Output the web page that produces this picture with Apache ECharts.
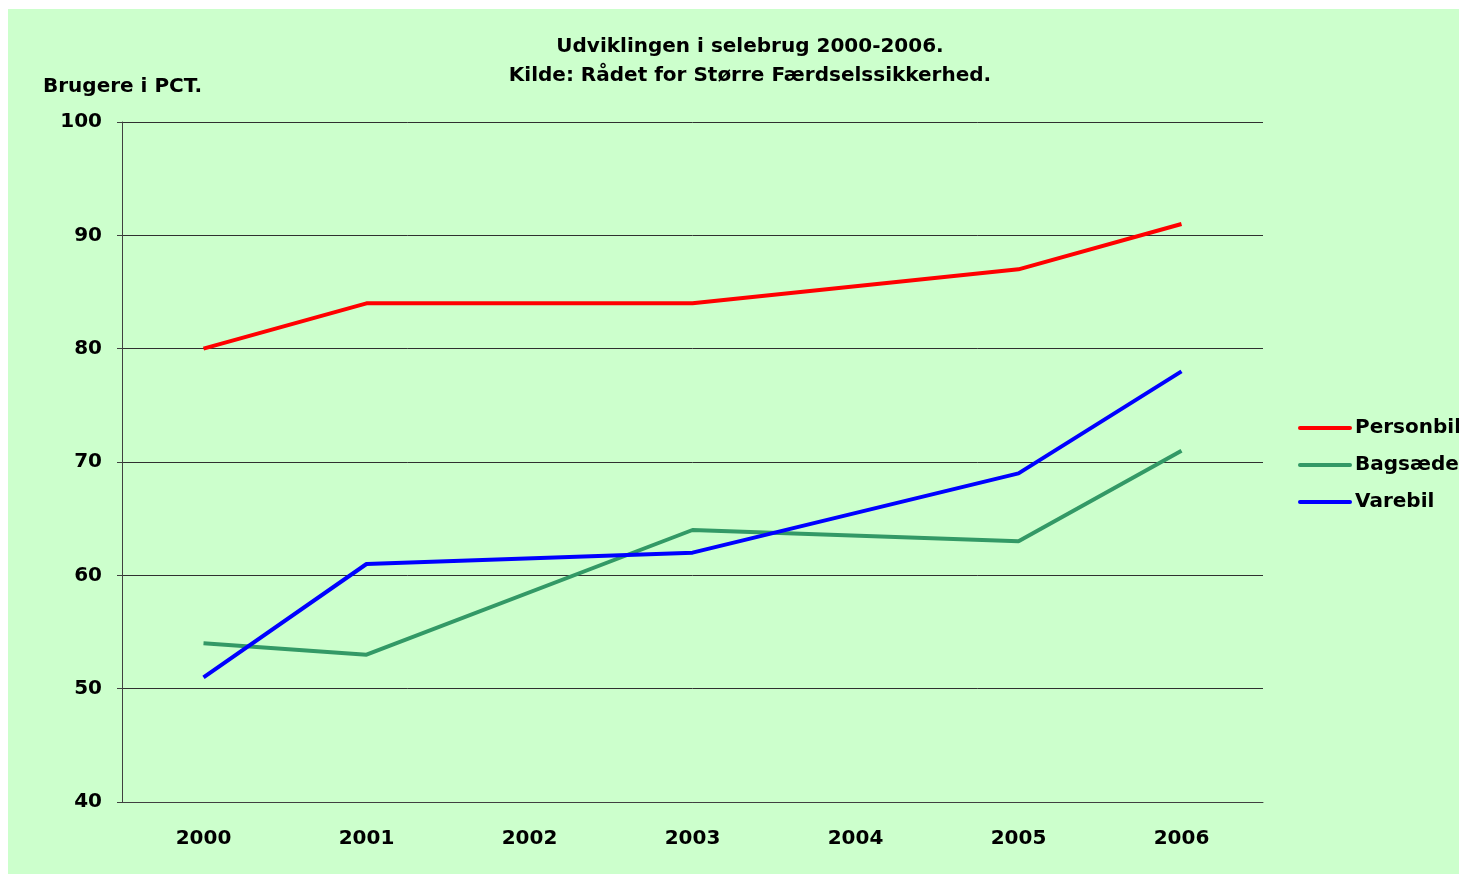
<!DOCTYPE html>
<html>
<head>
    <meta charset="UTF-8">
    <title>Udviklingen i selebrug</title>
    <script type="text/javascript" src="https://cdn.jsdelivr.net/npm/echarts@6/dist/echarts.min.js"></script>
    <style>
        body { margin: 0; background: #ffffff; }
        #main { position: absolute; left: 8px; top: 9px; width: 1451px; height: 865px; }
    </style>
</head>
<body>
<div id="main"></div>
<script type="text/javascript">
    var years = ['2000', '2001', '2002', '2003', '2004', '2005', '2006'];
    var personbil = [80, 84, null, 84, null, 87, 91];
    var bagsaede = [54, 53, null, 64, null, 63, 71];
    var varebil = [51, 61, null, 62, null, 69, 78];
    var seriesNames = ['Personbil', 'Bagsæde', 'Varebil'];
    var seriesColors = ['#ff0000', '#339966', '#0000ff'];

    var font = 'DejaVu Sans, Verdana, sans-serif';
    var myChart = echarts.init(document.getElementById('main'));

    function makeLine(i, values) {
        return {
            name: seriesNames[i],
            type: 'line',
            data: values,
            connectNulls: true,
            symbol: 'none',
            lineStyle: { color: seriesColors[i], width: 4 },
            itemStyle: { color: seriesColors[i] },
            emphasis: { disabled: true },
            animation: false
        };
    }

    myChart.setOption({
        backgroundColor: '#ccffcc',
        animation: false,
        title: {
            text: 'Udviklingen i selebrug 2000-2006.\nKilde: Rådet for Større Færdselssikkerhed.',
            left: 737,
            top: 18,
            textAlign: 'center',
            textStyle: {
                fontFamily: font, fontSize: 20, fontWeight: 'bold',
                color: '#000', lineHeight: 29
            }
        },
        graphic: [{
            type: 'text',
            left: 35,
            top: 68,
            style: {
                text: 'Brugere i PCT.',
                font: 'bold 20px ' + font,
                fill: '#000'
            }
        }],
        legend: {
            orient: 'vertical',
            left: 1285,
            top: 404,
            itemWidth: 50,
            itemHeight: 14,
            itemGap: 17,
            data: seriesNames,
            itemStyle: { opacity: 0 },
            lineStyle: { width: 4, cap: 'round' },
            textStyle: { fontFamily: font, fontSize: 20, fontWeight: 'bold', color: '#000' }
        },
        grid: { left: 114, top: 113, width: 1141, height: 680 },
        xAxis: {
            type: 'category',
            data: years,
            boundaryGap: true,
            axisLine: { lineStyle: { color: '#404040', width: 1 } },
            axisTick: { length: 8, lineStyle: { color: '#404040' } },
            axisLabel: {
                margin: 27, color: '#000',
                fontFamily: font, fontSize: 20, fontWeight: 'bold'
            }
        },
        yAxis: {
            type: 'value',
            min: 40,
            max: 100,
            interval: 10,
            axisLine: { show: true, lineStyle: { color: '#404040', width: 1 } },
            axisTick: { show: true, length: 5, lineStyle: { color: '#404040' } },
            axisLabel: {
                margin: 20, color: '#000',
                fontFamily: font, fontSize: 20, fontWeight: 'bold'
            },
            splitLine: { lineStyle: { color: '#303030', width: 1 } }
        },
        series: [
            makeLine(0, personbil),
            makeLine(1, bagsaede),
            makeLine(2, varebil)
        ]
    });
</script>
</body>
</html>
